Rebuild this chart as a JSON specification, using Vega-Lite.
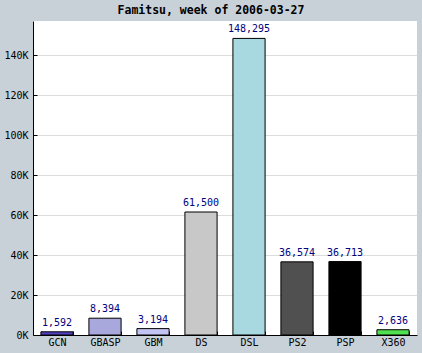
{
  "$schema": "https://vega.github.io/schema/vega-lite/v6.json",
  "width": 384,
  "height": 314,
  "autosize": {"type": "none"},
  "padding": {"left": 33, "top": 21, "right": 5, "bottom": 18},
  "background": "#c8d0d8",
  "title": {"text": "Famitsu, week of 2006-03-27", "font": "DejaVu Sans Mono", "fontSize": 11.5, "fontWeight": "bold", "color": "#000000", "offset": 5, "anchor": "middle", "dx": -14},
  "config": {"view": {"fill": "#ffffff", "stroke": null}},
  "data": {"values": [
    {"platform": "GCN", "sales": 1592, "color": "#5040c0"},
    {"platform": "GBASP", "sales": 8394, "color": "#a8a8dc"},
    {"platform": "GBM", "sales": 3194, "color": "#c4c4f4"},
    {"platform": "DS", "sales": 61500, "color": "#c8c8c8"},
    {"platform": "DSL", "sales": 148295, "color": "#a8d8e0"},
    {"platform": "PS2", "sales": 36574, "color": "#505050"},
    {"platform": "PSP", "sales": 36713, "color": "#000000"},
    {"platform": "X360", "sales": 2636, "color": "#50e050"}
  ]},
  "encoding": {
    "x": {"field": "platform", "type": "nominal", "sort": null,
      "scale": {"paddingInner": 0.33, "paddingOuter": 0.165},
      "axis": {"title": null, "labelAngle": 0, "labelFont": "DejaVu Sans Mono", "labelFontSize": 10, "labelColor": "#000000", "domainColor": "#000000", "tickColor": "#000000", "tickBand": "extent", "tickSize": -4, "labelPadding": 6, "grid": false}},
    "y": {"field": "sales", "type": "quantitative",
      "scale": {"domain": [0, 157000], "nice": false},
      "axis": {"title": null, "values": [0, 20000, 40000, 60000, 80000, 100000, 120000, 140000], "labelExpr": "datum.value/1000 + 'K'", "labelFont": "DejaVu Sans Mono", "labelFontSize": 10, "labelColor": "#000000", "domainColor": "#000000", "tickColor": "#000000", "tickSize": -4, "labelPadding": 9, "gridColor": "#dcdcdc"}}
  },
  "layer": [
    {"mark": {"type": "bar", "stroke": "#000000", "strokeWidth": 1}, "encoding": {"color": {"field": "color", "type": "nominal", "scale": null}}},
    {"mark": {"type": "text", "dy": -9, "font": "DejaVu Sans Mono", "fontSize": 10, "color": "#000080"}, "encoding": {"text": {"field": "sales", "type": "quantitative", "format": ","}}}
  ]
}
